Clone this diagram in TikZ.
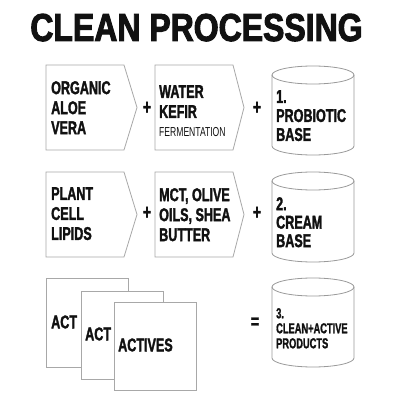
\documentclass[tikz,border=0pt]{standalone}
\usepackage{fontspec}
\newfontfamily\titlefont[FakeStretch=0.82,FakeBold=2.5]{Liberation Sans}
\newfontfamily\bodyfont[FakeStretch=0.68,FakeBold=1.6]{Liberation Sans}
\newfontfamily\smallfont[FakeStretch=0.64,FakeBold=1.2]{Liberation Sans}
\newfontfamily\lightfont[FakeStretch=0.66]{Liberation Sans}
\definecolor{ink}{HTML}{111111}
\definecolor{edge}{HTML}{A8A8A8}
\definecolor{cyledge}{HTML}{9A9A9A}
\begin{document}
\begin{tikzpicture}[x=1pt,y=1pt,
  boxline/.style={draw=edge,line width=0.8pt,fill=white},
  cylline/.style={draw=cyledge,line width=0.8pt},
  lbl/.style={inner sep=0pt,anchor=north west,align=left,text=ink,
    font={\bodyfont\bfseries\fontsize{18.5}{20}\selectfont}},
  cyllbl/.style={lbl,font={\bodyfont\bfseries\fontsize{18.5}{19}\selectfont}},
  op/.style={inner sep=0pt,text=ink,font={\bodyfont\bfseries\fontsize{21}{21}\selectfont}}]
\useasboundingbox[fill=white] (0,0) rectangle (400,400);
% title
\node[inner sep=0pt,anchor=base,text=ink,font={\titlefont\bfseries\fontsize{39}{40}\selectfont}] (title) at (196.5,359) {CLEAN PROCESSING};
% row 1
\draw[boxline] (46,335) -- (124,335) -- (137,292.5) -- (124,250) -- (46,250) -- cycle;
\draw[boxline] (155,335) -- (233,335) -- (244,292.5) -- (233,250) -- (155,250) -- cycle;
\node[lbl] (aloe) at (51,319) {ORGANIC\\ALOE\\VERA};
\node[lbl] (kefir) at (159,315) {WATER\\KEFIR\\[-1pt]{\lightfont\mdseries\fontsize{13}{13}\selectfont FERMENTATION}};
\node[op] (p1) at (147,292) {+};
\node[op] (p2) at (257,292) {+};
\draw[cylline] (313,325) ellipse [x radius=41pt, y radius=9pt];
\draw[cylline] (272,325) -- (272,254) arc[start angle=180,end angle=360,x radius=41pt,y radius=9pt] -- (354,325);
\node[cyllbl] (base1) at (276,310) {1.\\PROBIOTIC\\BASE};
% row 2
\draw[boxline] (46,228) -- (124,228) -- (137,185.5) -- (124,143) -- (46,143) -- cycle;
\draw[boxline] (155,228) -- (233,228) -- (244,185.5) -- (233,143) -- (155,143) -- cycle;
\node[lbl] (lipids) at (51,213) {PLANT\\CELL\\LIPIDS};
\node[lbl] (oils) at (159,212) {MCT, OLIVE\\OILS, SHEA\\BUTTER};
\node[op] (p3) at (147,187) {+};
\node[op] (p4) at (257,187) {+};
\draw[cylline] (313,219) ellipse [x radius=41pt, y radius=9pt];
\draw[cylline] (272,219) -- (272,147) arc[start angle=180,end angle=360,x radius=41pt,y radius=9pt] -- (354,219);
\node[cyllbl,font={\bodyfont\bfseries\fontsize{18.5}{18.5}\selectfont}] (base2) at (276,203) {2.\\CREAM\\BASE};
% row 3
\draw[boxline] (46,33) rectangle (128,122);
\node[lbl,anchor=west] (act1) at (51,78) {ACT};
\draw[boxline] (81,21) rectangle (163,109);
\node[lbl,anchor=west] (act2) at (85,66) {ACT};
\draw[boxline] (114,10) rectangle (196,98);
\node[lbl,anchor=west] (actives) at (118,55) {ACTIVES};
\node[op] (eq) at (255,77) {=};
\draw[cylline] (313,113) ellipse [x radius=41pt, y radius=9pt];
\draw[cylline] (272,113) -- (272,42) arc[start angle=180,end angle=360,x radius=41pt,y radius=9pt] -- (354,113);
\node[lbl,font={\smallfont\bfseries\fontsize{14.5}{15}\selectfont}] (base3) at (276,92) {3.\\CLEAN+ACTIVE\\PRODUCTS};
\end{tikzpicture}
\end{document}
